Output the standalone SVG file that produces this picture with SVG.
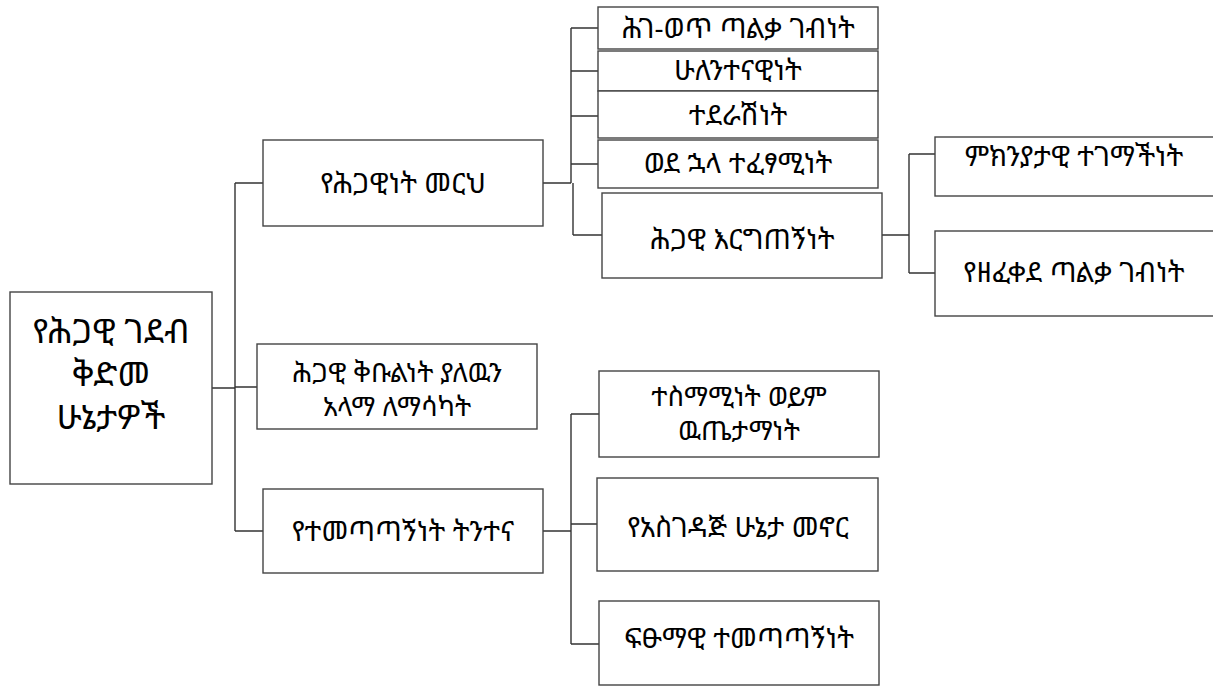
<svg xmlns="http://www.w3.org/2000/svg" width="1213" height="686" viewBox="0 0 1213 686">
<style>
.box{fill:#fff;stroke:#444;stroke-width:1.4}
.c{fill:none;stroke:#333;stroke-width:1.4}
text{font-family:"Noto Sans Ethiopic","Abyssinica SIL","Noto Serif Ethiopic","DejaVu Sans","Noto Sans",sans-serif;font-size:28px;fill:#000;text-anchor:middle}
.big{font-size:34px}
.two{font-size:27px}
</style>
<rect width="1213" height="686" fill="#fff"/>
<g id="connectors">
<path class="c" d="M212,388 H235 M235,183 V531 M235,183 H263 M235,387 H257 M235,531 H263"/>
<path class="c" d="M543,183 H571 M571,28 V183 M573,183 V235 M571,28 H598 M571,71 H598 M571,116 H598 M571,164 H598 M573,235 H602"/>
<path class="c" d="M882,235 H909 M909,154 V273 M909,154 H935 M909,273 H935"/>
<path class="c" d="M543,531 H571 M571,414 V644 M571,414 H599 M571,524 H597 M571,644 H599"/>
</g>
<g id="root"><rect class="box" x="10" y="292" width="202" height="192"/>
<text class="big" x="111" y="343">የሕጋዊ ገደብ</text>
<text class="big" x="111" y="386">ቅድመ</text>
<text class="big" x="111" y="429">ሁኔታዎች</text></g>
<g id="n1"><rect class="box" x="263" y="140" width="280" height="86"/><text x="403" y="193">የሕጋዊነት መርህ</text></g>
<g id="n2"><rect class="box" x="257" y="344" width="280" height="85"/><text class="two" x="397" y="382">ሕጋዊ ቅቡልነት ያለዉን</text><text class="two" x="397" y="416">አላማ ለማሳካት</text></g>
<g id="n3"><rect class="box" x="263" y="489" width="280" height="84"/><text x="403" y="541">የተመጣጣኝነት ትንተና</text></g>
<g id="n1a"><rect class="box" x="598" y="7" width="280" height="42"/><text x="738" y="38">ሕገ-ወጥ ጣልቃ ገብነት</text></g>
<g id="n1b"><rect class="box" x="598" y="51" width="280" height="40"/><text x="738" y="80">ሁለንተናዊነት</text></g>
<g id="n1c"><rect class="box" x="598" y="91" width="280" height="47"/><text x="738" y="125">ተደራሽነት</text></g>
<g id="n1d"><rect class="box" x="598" y="140" width="280" height="48"/><text x="738" y="173">ወደ ኋላ ተፈፃሚነት</text></g>
<g id="n1e"><rect class="box" x="602" y="193" width="280" height="85"/><text x="742" y="249">ሕጋዊ እርግጠኝነት</text></g>
<g id="n1e1"><rect class="box" x="935" y="137" width="290" height="59"/><text x="1074" y="166">ምክንያታዊ ተገማችነት</text></g>
<g id="n1e2"><rect class="box" x="935" y="231" width="290" height="85"/><text x="1074" y="282">የዘፈቀደ ጣልቃ ገብነት</text></g>
<g id="n3a"><rect class="box" x="599" y="371" width="280" height="86"/><text class="two" x="739" y="406">ተስማሚነት ወይም</text><text class="two" x="739" y="440">ዉጤታማነት</text></g>
<g id="n3b"><rect class="box" x="597" y="478" width="281" height="93"/><text x="738" y="537">የአስገዳጅ ሁኔታ መኖር</text></g>
<g id="n3c"><rect class="box" x="599" y="601" width="280" height="84"/><text x="739" y="648">ፍፁማዊ ተመጣጣኝነት</text></g>
</svg>
